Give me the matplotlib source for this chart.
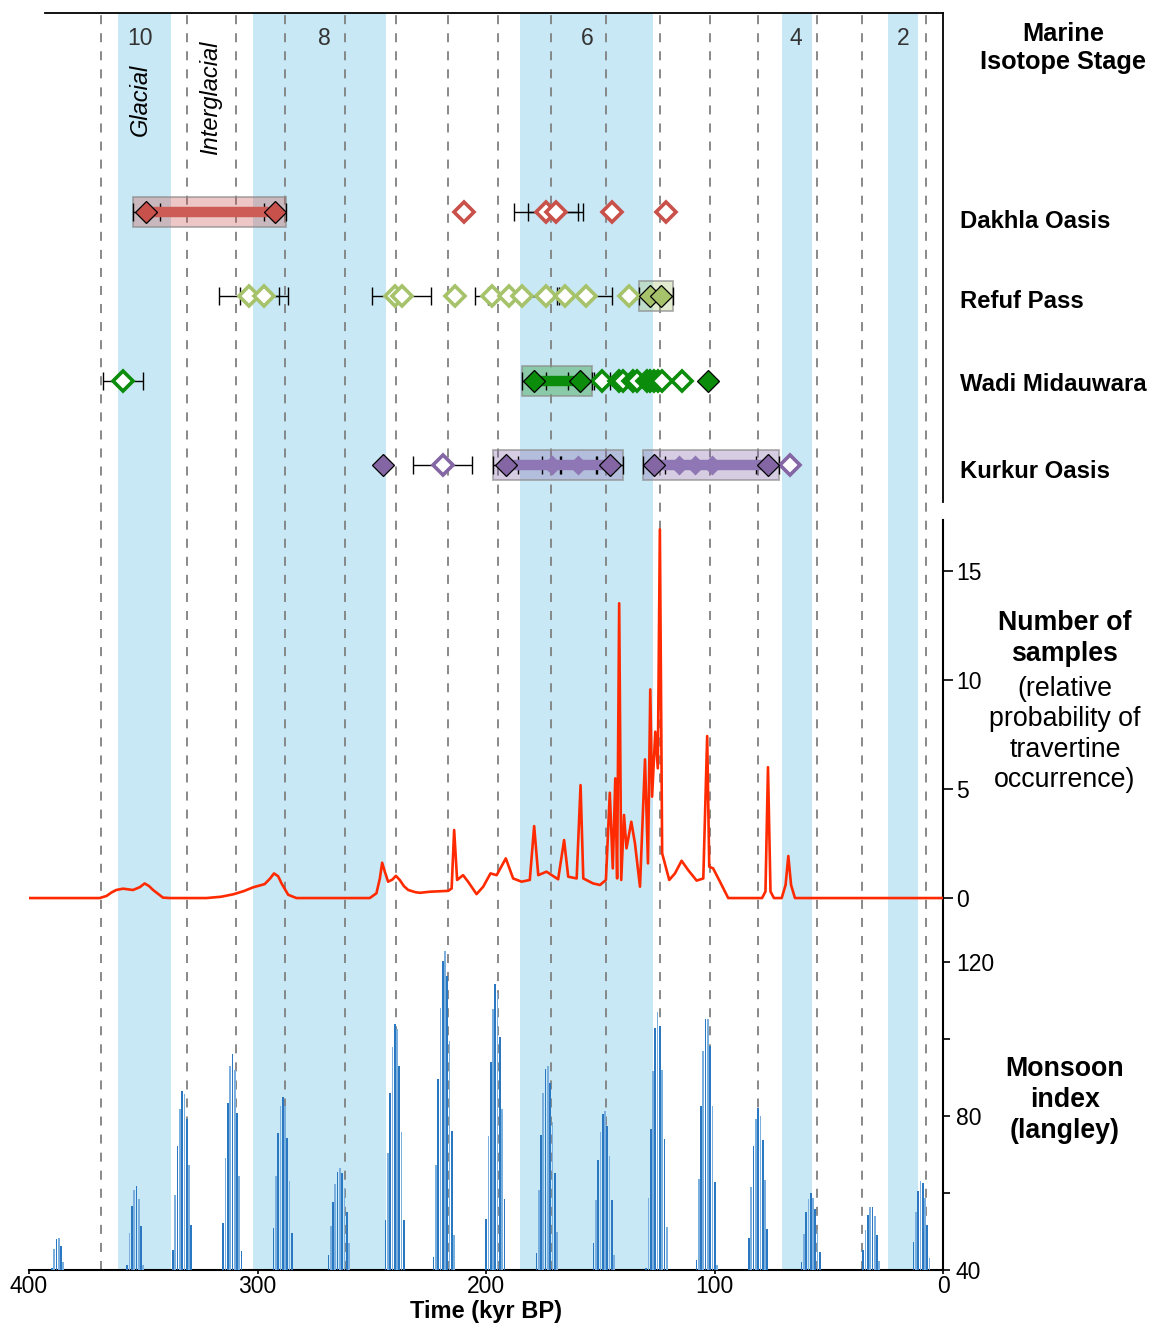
import numpy as np
import matplotlib.pyplot as plt
from matplotlib.patches import Rectangle

plt.rcParams['font.family'] = ['Liberation Sans', 'DejaVu Sans']

# glacial marine isotope stages (kyr BP)
mis_labels = ['10', '8', '6', '4', '2']
mis_label_t = [351.6, 270.6, 155.9, 64.5, 17.6]
mis_old = [361, 302, 185, 70.6, 24]
mis_young = [338, 244, 127, 57.5, 11]

# dashed reference times
ref_times = [368.6, 330.9, 309.5, 287.8, 261.8, 239.6, 216.8, 194.7,
             171.8, 147.7, 124.0, 102.1, 81.0, 55.1, 35.4, 7.7]

# travertine ages per site
sites = ['Dakhla Oasis', 'Refuf Pass', 'Wadi Midauwara', 'Kurkur Oasis']
site_colors = ['#c9514b', '#a6c36c', '#0b8c0b', '#8466a5']
link_colors = ['#cd5c57', '#a6c36c', '#0b8c0b', '#8f77b5']

dakhla_solid = [348.6, 292.2]
dakhla_solid_err = [5.8, 4.8]
dakhla_open = [209.6, 174.0, 169.5, 144.9, 121.5]
dakhla_open_err = [0, 14.0, 12.0, 0, 0]
dakhla_hidden = []
dakhla_hidden_err = []
dakhla_groups = [(0, 1)]

refuf_solid = [128.5, 123.7]
refuf_solid_err = [4.6, 5.5]
refuf_open = [303.7, 297.3, 240.0, 237.0, 213.7, 197.6, 189.8, 184.2,
              173.9, 165.6, 156.5, 137.7]
refuf_open_err = [13.1, 10.5, 0, 12.8, 0, 0, 14.9, 15.0, 0, 0, 11.6, 0]
refuf_hidden = []
refuf_hidden_err = []
refuf_groups = [(0, 1)]

wadi_solid = [179.0, 159.0, 103.1]
wadi_solid_err = [5.3, 5.1, 0]
wadi_open = [358.9, 149.5, 141.8, 140.1, 135.7, 134.2, 129.8, 128.4,
             126.6, 124.7, 123.2, 114.2]
wadi_open_err = [8.9, 3.5, 0, 0, 0, 0, 0, 0, 0, 0, 0, 0]
wadi_hidden = []
wadi_hidden_err = []
wadi_groups = [(0, 1)]

kurkur_solid = [245.3, 191.5, 145.9, 126.6, 76.8]
kurkur_solid_err = [0, 5.4, 5.6, 4.9, 5.1]
kurkur_open = [219.0, 67.1]
kurkur_open_err = [12.9, 0]
kurkur_hidden = [171.4, 159.7, 115.7, 108.7, 101.1]
kurkur_hidden_err = [4.1, 7.8, 0, 0, 0]
kurkur_groups = [(1, 2), (3, 4)]

site_data = [
    (dakhla_solid, dakhla_solid_err, dakhla_open, dakhla_open_err,
     dakhla_hidden, dakhla_hidden_err, dakhla_groups),
    (refuf_solid, refuf_solid_err, refuf_open, refuf_open_err,
     refuf_hidden, refuf_hidden_err, refuf_groups),
    (wadi_solid, wadi_solid_err, wadi_open, wadi_open_err,
     wadi_hidden, wadi_hidden_err, wadi_groups),
    (kurkur_solid, kurkur_solid_err, kurkur_open, kurkur_open_err,
     kurkur_hidden, kurkur_hidden_err, kurkur_groups),
]

# relative probability of travertine occurrence
prob_t = [400, 369.1, 366.0, 364.0, 361.8, 358.9, 354.5, 351.5, 349.4, 347.5,
          345.7, 341.4, 338.4, 322.4, 316.0, 310.7, 306.0, 302.0, 296.9, 294.5,
          292.8, 291.0, 289.5, 286.6, 283.0, 250.9, 248.0, 246.5, 245.5, 244.3,
          242.9, 241.0, 239.5, 237.8, 236.0, 234.1, 231.0, 229.0, 224.6, 216.6,
          215.1, 214.0, 212.7, 210.1, 207.9, 204.2, 201.3, 198.1, 195.4, 191.4,
          188.2, 184.5, 180.9, 179.0, 177.2, 173.6, 168.5, 165.9, 164.1, 160.4,
          158.7, 157.5, 153.2, 150.2, 147.6, 145.9, 144.6, 143.5, 142.7, 141.8,
          140.9, 139.7, 138.6, 136.5, 134.9, 132.7, 130.5, 129.2, 128.2, 127.4,
          126.0, 124.9, 124.0, 123.0, 119.9, 117.4, 114.5, 111.6, 107.9, 105.0,
          103.3, 102.4, 100.7, 97.7, 94.1, 79.3, 77.8, 76.7, 75.6, 74.1,
          70.7, 69.0, 67.8, 66.6, 64.9, 0]
prob_n = [0, 0, 0.1, 0.25, 0.37, 0.43, 0.37, 0.5, 0.67, 0.55,
          0.37, 0.02, 0, 0, 0.06, 0.17, 0.32, 0.49, 0.64, 0.9,
          1.13, 1.0, 0.67, 0.15, 0, 0, 0.22, 0.9, 1.62, 1.2,
          0.75, 0.85, 1.02, 0.83, 0.55, 0.37, 0.27, 0.24, 0.29, 0.33,
          0.44, 3.12, 0.83, 1.05, 0.75, 0.18, 0.52, 1.13, 1.05, 1.82,
          0.90, 0.75, 0.83, 3.30, 1.05, 1.21, 0.86, 2.66, 0.98, 0.90,
          5.18, 0.90, 0.67, 0.60, 0.83, 4.83, 1.36, 5.49, 0.90, 13.52,
          0.83, 3.81, 2.28, 3.50, 2.51, 0.52, 6.36, 1.59, 9.57, 4.65,
          7.63, 5.95, 16.91, 2.05, 0.83, 1.13, 1.71, 1.28, 0.80, 0.90,
          7.43, 1.44, 1.36, 0.75, 0, 0, 0.3, 6.0, 0.3, 0,
          0, 0.6, 1.93, 0.6, 0, 0]

# monsoon index, one bar per kyr: oldest age of each group and its values
monsoon_start = [390, 357, 337, 315, 293, 269, 244, 223, 200, 178,
                 153, 130, 108, 85, 62, 35, 13]
monsoon_vals = [
    [40.6, 45.5, 48.1, 48.3, 46.3, 42.1],
    [41.4, 49.7, 56.6, 60.8, 61.7, 58.5, 51.4, 41.2],
    [45.1, 59.4, 72.2, 81.7, 86.6, 85.8, 79.1, 67.4, 51.6],
    [52.3, 69.1, 83.4, 92.9, 96.0, 91.9, 80.8, 64.4, 45.0],
    [50.8, 64.5, 75.6, 82.5, 85.0, 82.5, 74.3, 63.2, 49.5],
    [44.0, 51.4, 57.6, 62.4, 65.5, 66.5, 65.2, 61.3, 55.1, 47.1],
    [53.1, 70.4, 86.0, 98.0, 104.0, 102.6, 92.9, 75.8, 53.1],
    [43.4, 67.3, 89.6, 108.1, 120.2, 122.8, 116.3, 99.4, 76.1, 49.2],
    [53.3, 74.9, 94.1, 107.9, 114.4, 112.0, 100.6, 81.9, 58.5],
    [44.3, 60.7, 75.0, 86.0, 92.1, 92.9, 88.6, 78.4, 65.1, 49.8],
    [46.9, 58.3, 68.5, 75.9, 80.6, 81.3, 77.5, 69.6, 58.1, 43.8],
    [40.6, 58.7, 76.5, 91.8, 102.9, 107.0, 103.5, 91.9, 73.9, 51.2],
    [42.7, 63.7, 82.6, 96.8, 105.1, 105.2, 98.1, 82.6, 62.8, 41.4],
    [48.2, 61.6, 72.2, 79.3, 82.1, 80.1, 73.7, 63.3, 50.7],
    [42.0, 49.4, 55.0, 58.5, 59.9, 58.7, 55.9, 50.5, 44.6],
    [45.3, 50.5, 54.4, 56.4, 56.4, 54.0, 49.0, 42.3],
    [47.2, 55.0, 60.5, 63.0, 62.5, 58.7, 51.8, 43.2],
]

W, H = 1149, 1325
fig = plt.figure(figsize=(W / 100, H / 100), dpi=100)


def box(left, top, right, bottom):
    return [left / W, 1 - bottom / H, (right - left) / W, (bottom - top) / H]


# background: stage bands, dashed lines, time axis
ax_bg = fig.add_axes(box(29, 13, 943.3, 1270))
ax_bg.set_xlim(400, 0)
ax_bg.set_ylim(0, 1)
for a, b in zip(mis_old, mis_young):
    ax_bg.axvspan(a, b, color='#c9e8f5', lw=0, zorder=0)
for t in ref_times:
    ax_bg.axvline(t, color='#808080', lw=1.3, dashes=(5, 5), zorder=1)
for lab, t in zip(mis_labels, mis_label_t):
    ax_bg.text(t, 0.980, lab, ha='center', va='center',
               fontsize=16.5, color='#333333')
for s in ['top', 'left', 'right']:
    ax_bg.spines[s].set_visible(False)
ax_bg.spines['bottom'].set_linewidth(1.5)
ax_bg.set_yticks([])
ax_bg.set_xticks([400, 300, 200, 100, 0])
ax_bg.tick_params(axis='x', direction='out', length=3, width=1.2,
                  labelsize=16.5, pad=0.5)
ax_bg.set_xlabel('Time (kyr BP)', fontsize=17, fontweight='bold', labelpad=1.5)

fig.text(140 / W, 1 - 100 / H, 'Glacial', rotation=90, style='italic',
         fontsize=17, ha='center', va='center')
fig.text(211 / W, 1 - 98 / H, 'Interglacial', rotation=90, style='italic',
         fontsize=17, ha='center', va='center')

# site panel
ax_s = fig.add_axes(box(29, 13, 943.3, 502))
ax_s.set_xlim(400, 0)
ax_s.set_ylim(3.44, -2.36)
ax_s.patch.set_alpha(0)
ax_s.set_xticks([])
ax_s.set_yticks([])
for s in ['left', 'bottom']:
    ax_s.spines[s].set_visible(False)
ax_s.spines['top'].set_bounds(393, 0)
ax_s.spines['top'].set_linewidth(1.3)
ax_s.spines['right'].set_linewidth(1.3)

for row, (col, lcol, data) in enumerate(zip(site_colors, link_colors, site_data)):
    solid, solid_err, opn, opn_err, hid, hid_err, groups = data
    for i, j in groups:
        lo = max(solid[i] + solid_err[i], solid[j] + solid_err[j])
        hi = min(solid[i] - solid_err[i], solid[j] - solid_err[j])
        ax_s.add_patch(Rectangle((lo, row - 0.178), hi - lo, 0.356,
                                 facecolor=col, alpha=0.32, edgecolor='none',
                                 zorder=2))
        ax_s.add_patch(Rectangle((lo, row - 0.178), hi - lo, 0.356,
                                 facecolor='none', edgecolor='#8c8c8c',
                                 alpha=0.7, lw=1.3, zorder=2))
        if row != 1:
            ax_s.plot([solid[i], solid[j]], [row, row], color=lcol, lw=7.5,
                      solid_capstyle='butt', zorder=4)
    ages = list(solid) + list(opn) + list(hid)
    errs = list(solid_err) + list(opn_err) + list(hid_err)
    et = [a for a, e in zip(ages, errs) if e > 0]
    ee = [e for e in errs if e > 0]
    ax_s.errorbar(et, [row] * len(et), xerr=ee, fmt='none', ecolor='black',
                  elinewidth=1.0, capsize=6.5, capthick=1.0, zorder=3)
    if hid:
        ax_s.plot(hid, [row] * len(hid), 'D', ms=10.5, color=lcol, mec='none',
                  zorder=3.5)
    ax_s.plot(opn, [row] * len(opn), 'D', ms=10, mfc='white', mec=col,
              mew=2.6, zorder=5)
    ax_s.plot(solid, [row] * len(solid), 'D', ms=11.3, mfc=col, mec='black',
              mew=0.9, zorder=6)

site_label_y = [222, 302, 385, 472]
for name, y in zip(sites, site_label_y):
    fig.text(960 / W, 1 - y / H, name, fontsize=17.2, fontweight='bold',
             ha='left', va='center')

# probability curve
ax_p = fig.add_axes(box(29, 520, 943.3, 1270))
ax_p.set_xlim(400, 0)
ax_p.set_ylim(-17.06, 17.34)
ax_p.patch.set_alpha(0)
ax_p.plot(prob_t, prob_n, color='#ff2a00', lw=1.9, zorder=5,
          solid_joinstyle='round')
for s in ['top', 'left', 'bottom']:
    ax_p.spines[s].set_visible(False)
ax_p.spines['right'].set_linewidth(1.5)
ax_p.yaxis.tick_right()
ax_p.set_yticks([0, 5, 10, 15])
ax_p.set_xticks([])
ax_p.tick_params(axis='y', direction='out', length=7, width=1.2,
                 labelsize=16.5, pad=2)

# monsoon index bars
ax_m = fig.add_axes(box(29, 520, 943.3, 1270))
ax_m.set_xlim(400, 0)
ax_m.set_ylim(40, 234.8)
ax_m.patch.set_alpha(0)
for start, vals in zip(monsoon_start, monsoon_vals):
    t = start - np.arange(len(vals))
    cols = ['#2a78c2' if k % 2 == 0 else '#7bb0de' for k in range(len(vals))]
    ax_m.bar(t, np.array(vals) - 40, bottom=40, width=0.8, color=cols,
             lw=0, zorder=3)
for s in ['top', 'left', 'bottom', 'right']:
    ax_m.spines[s].set_visible(False)
ax_m.yaxis.tick_right()
ax_m.set_yticks([40, 60, 80, 100, 120])
ax_m.set_yticklabels(['40', '', '80', '', '120'])
ax_m.set_xticks([])
ax_m.tick_params(axis='y', direction='out', length=5, width=1.2,
                 labelsize=16.5, pad=4)

# right-hand descriptions
fig.text(1063 / W, 1 - 48 / H, 'Marine\nIsotope Stage', fontsize=18.3,
         fontweight='bold', ha='center', va='center', linespacing=1.25)
fig.text(1065 / W, 1 - 638.5 / H, 'Number of\nsamples', fontsize=19.3,
         fontweight='bold', ha='center', va='center', linespacing=1.25)
fig.text(1065 / W, 1 - 734.5 / H,
         '(relative\nprobability of\ntravertine\noccurrence)',
         fontsize=19.3, ha='center', va='center', linespacing=1.22)
fig.text(1065 / W, 1 - 1100 / H, 'Monsoon\nindex\n(langley)', fontsize=19.3,
         fontweight='bold', ha='center', va='center', linespacing=1.25)

fig.savefig('out.png', dpi=100)
